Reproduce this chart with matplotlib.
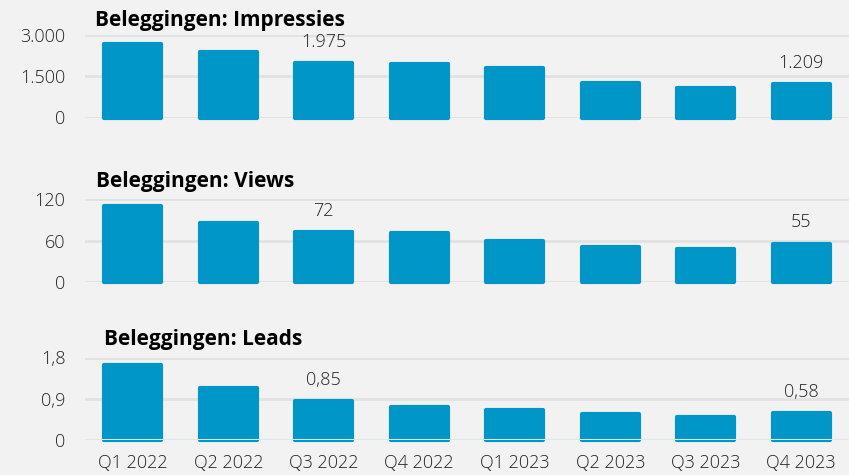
import matplotlib
matplotlib.use("Agg")
import matplotlib.pyplot as plt
from matplotlib.ticker import FuncFormatter

plt.rcParams['font.family'] = ['Open Sans', 'DejaVu Sans']

quarters = ["Q1 2022", "Q2 2022", "Q3 2022", "Q4 2022", "Q1 2023", "Q2 2023", "Q3 2023", "Q4 2023"]
impressies = [2665, 2377, 1975, 1945, 1786, 1260, 1080, 1209]
views = [110, 86, 72, 71, 59, 51, 48, 55]
leads = [1.64, 1.14, 0.85, 0.72, 0.66, 0.56, 0.50, 0.58]

titles = ["Beleggingen: Impressies", "Beleggingen: Views", "Beleggingen: Leads"]
yticks_list = [[0, 1500, 3000], [0, 60, 120], [0, 0.9, 1.8]]
label_idx = [2, 7]

BG = '#f2f2f2'
BAR = '#0096c8'
GRID = '#e2e2e2'
TXT = '#222222'

def fmt_nl(v, decimals):
    if abs(v) < 1e-9:
        return "0"
    if decimals == 0:
        s = f"{v:,.0f}".replace(",", ".")
    else:
        s = f"{v:.{decimals}f}".replace(".", ",")
    return s

W, H = 849, 475
fig = plt.figure(figsize=(W / 100, H / 100), dpi=100, facecolor=BG)

panels = [
    (35, 117.5, 95, 26, impressies, 0, 0),
    (199, 282, 96, 187, views, 0, 0),
    (357.5, 440, 104, 345, leads, 1, 2),
]
left_px = 85
for i, (top, bot, tx, tb, data, tdec, ldec) in enumerate(panels):
    ax = fig.add_axes([left_px / W, (H - bot) / H, (W - left_px) / W, (bot - top) / H])
    ax.set_facecolor(BG)
    x = list(range(len(quarters)))
    ax.bar(x, data, width=0.6, color=BAR, edgecolor=BAR, linewidth=3,
           joinstyle='round', zorder=2, clip_on=False)
    ax.set_xlim(-0.5, len(quarters) - 0.5)
    yt = yticks_list[i]
    ax.set_ylim(0, yt[-1])
    ax.set_yticks(yt)
    ax.yaxis.set_major_formatter(FuncFormatter(lambda v, p, d=tdec: fmt_nl(v, d)))
    ax.grid(axis='y', color=GRID, linewidth=2, zorder=0)
    ax.set_axisbelow(True)
    for s in ax.spines.values():
        s.set_visible(False)
    ax.tick_params(axis='y', length=0, pad=14, labelsize=13, labelcolor=TXT)
    for lbl in ax.get_yticklabels():
        lbl.set_fontweight('light')
    if i == 2:
        ax.axhline(0, color='#d8e8ee', linewidth=1.5, zorder=3)
        ax.set_xticks(x)
        ax.set_xticklabels(quarters, fontweight='light')
        ax.tick_params(axis='x', length=0, pad=10, labelsize=13, labelcolor=TXT)
    else:
        ax.set_xticks([])
    for j in label_idx:
        ax.annotate(fmt_nl(data[j], ldec), (j, data[j]), xytext=(0, 9),
                    textcoords='offset points', ha='center', va='bottom',
                    fontsize=13, color=TXT, fontweight='light')
    fig.text(tx / W, (H - tb) / H, titles[i], fontsize=15, fontweight='bold',
             color='black', ha='left', va='baseline')

fig.savefig("out.png", dpi=100, facecolor=BG)
